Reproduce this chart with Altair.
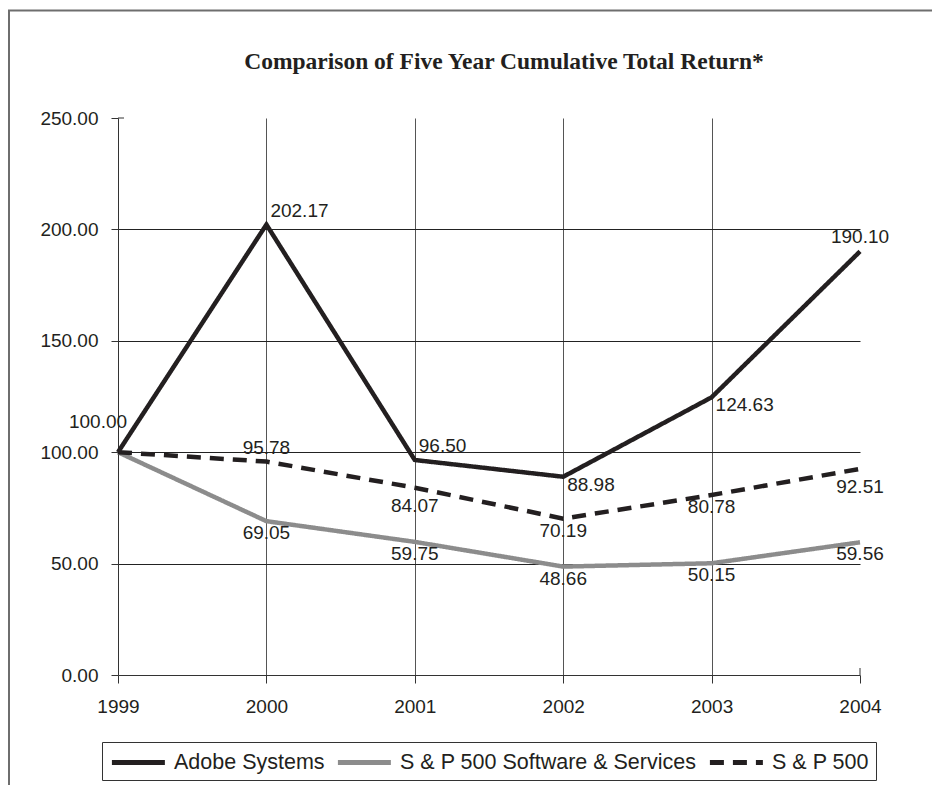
import altair as alt
import pandas as pd

# ---- data ----
years = [1999, 2000, 2001, 2002, 2003, 2004]
series_names = ["Adobe Systems", "S & P 500 Software & Services", "S & P 500"]
adobe = [100.00, 202.17, 96.50, 88.98, 124.63, 190.10]
software = [100.00, 69.05, 59.75, 48.66, 50.15, 59.56]
sp500 = [100.00, 95.78, 84.07, 70.19, 80.78, 92.51]
y_ticks = [0, 50, 100, 150, 200, 250]
title_text = "Comparison of Five Year Cumulative Total Return*"

# where each data label sits relative to its point (None = no label)
adobe_place = ["nw", "ne", "ne", "se", "se", "n"]
software_place = [None, "s", "s", "s", "s", "s"]
sp500_place = [None, "n", "s2", "s", "s", "s2"]

# ---- style ----
colors = ["#231f20", "#8c8c8c", "#231f20"]
dashes = [[1, 0], [1, 0], [14, 9]]
ink = "#231f20"
W, H = 742, 557
PAD_L, PAD_T, PAD_R, PAD_B = 110, 110, 72, 110

place_style = {
    "nw": dict(align="center", dx=-20, dy=-30),
    "ne": dict(align="left", dx=4, dy=-14),
    "se": dict(align="left", dx=4, dy=8),
    "n": dict(align="center", dx=0, dy=-14),
    "s": dict(align="center", dx=0, dy=12),
    "s2": dict(align="center", dx=0, dy=18),
}

rows = []
label_rows = []
for name, vals, places in zip(series_names, [adobe, software, sp500],
                              [adobe_place, software_place, sp500_place]):
    for yr, v, p in zip(years, vals, places):
        rows.append({"series": name, "year": yr, "value": v})
        if p is not None:
            label_rows.append({"series": name, "year": yr, "value": v, "place": p})
df = pd.DataFrame(rows)
labels = pd.DataFrame(label_rows)

xscale = alt.Scale(domain=[years[0], years[-1]], nice=False, zero=False)
yscale = alt.Scale(domain=[y_ticks[0], y_ticks[-1]], nice=False)

x_axis = alt.Axis(
    values=years, format="d", title=None, labelFont="Liberation Sans",
    labelFontSize=19, labelColor=ink, labelFlush=False, labelOverlap=False,
    labelPadding=14, tickSize=8, tickColor="#333", domainColor="#333",
    grid=True, gridColor="#555",
    gridOpacity={"condition": {"test": "datum.value == 1999 || datum.value == 2004", "value": 0}, "value": 1},
)
y_axis = alt.Axis(
    values=y_ticks, format=".2f", title=None, labelFont="Liberation Sans",
    labelFontSize=19, labelColor=ink, labelPadding=13, tickSize=7,
    tickColor="#333", domainColor="#333",
    grid=True, gridColor="#222",
    gridOpacity={"condition": {"test": "datum.value == 0 || datum.value == 250", "value": 0}, "value": 1},
)

legend = alt.Legend(
    title=None, orient="none", legendX=-16, legendY=624, direction="horizontal",
    columns=3, strokeColor="#333", padding=7, labelFont="Liberation Sans",
    labelFontSize=21.5, labelColor=ink, labelOffset=38, labelLimit=500,
    columnPadding=2, symbolType="M-1,0H4", symbolSize=449, symbolStrokeWidth=5,
)

lines = alt.Chart(df).mark_line(strokeWidth=4.5, strokeJoin="miter").encode(
    x=alt.X("year:Q", scale=xscale, axis=x_axis),
    y=alt.Y("value:Q", scale=yscale, axis=y_axis),
    color=alt.Color("series:N", scale=alt.Scale(domain=series_names, range=colors), legend=legend),
    strokeDash=alt.StrokeDash("series:N", scale=alt.Scale(domain=series_names, range=dashes), legend=legend),
)

label_layers = []
for p, st in place_style.items():
    label_layers.append(
        alt.Chart(labels).transform_filter(alt.datum.place == p).mark_text(
            font="Liberation Sans", fontSize=19, color=ink, baseline="middle", **st
        ).encode(
            x=alt.X("year:Q", scale=xscale),
            y=alt.Y("value:Q", scale=yscale),
            text=alt.Text("value:Q", format=".2f"),
        )
    )

title = alt.Chart(pd.DataFrame({"t": [title_text]})).mark_text(
    font="Liberation Serif", fontWeight="bold", fontSize=23.5, color=ink,
    align="center", baseline="middle",
).encode(x=alt.value(386), y=alt.value(-56), text="t:N")

one = pd.DataFrame({"k": [0]})
frame_top = alt.Chart(one).mark_rule(color="#6e6e6e", strokeWidth=2).encode(
    x=alt.value(-110), x2=alt.value(W + PAD_R), y=alt.value(-107.5)
)
frame_left = alt.Chart(one).mark_rule(color="#6e6e6e", strokeWidth=2).encode(
    x=alt.value(-109), y=alt.value(-108), y2=alt.value(H + PAD_B)
)
# inner halves of the cross-style end ticks
tick_top = alt.Chart(one).mark_rule(color="#333", strokeWidth=1).encode(
    y=alt.datum(y_ticks[-1]), x=alt.value(0), x2=alt.value(6)
)
tick_right = alt.Chart(one).mark_rule(color="#333", strokeWidth=1).encode(
    x=alt.datum(years[-1]), y=alt.value(H - 7), y2=alt.value(H)
)

chart = alt.layer(frame_top, frame_left, title, tick_top, tick_right, lines, *label_layers).properties(
    width=W, height=H,
    padding={"left": PAD_L, "top": PAD_T, "right": PAD_R, "bottom": PAD_B},
    autosize=alt.AutoSizeParams(type="none"),
    background="white",
).configure_view(strokeWidth=0)

chart.save("out.html", embed_options={"renderer": "svg", "actions": False})
